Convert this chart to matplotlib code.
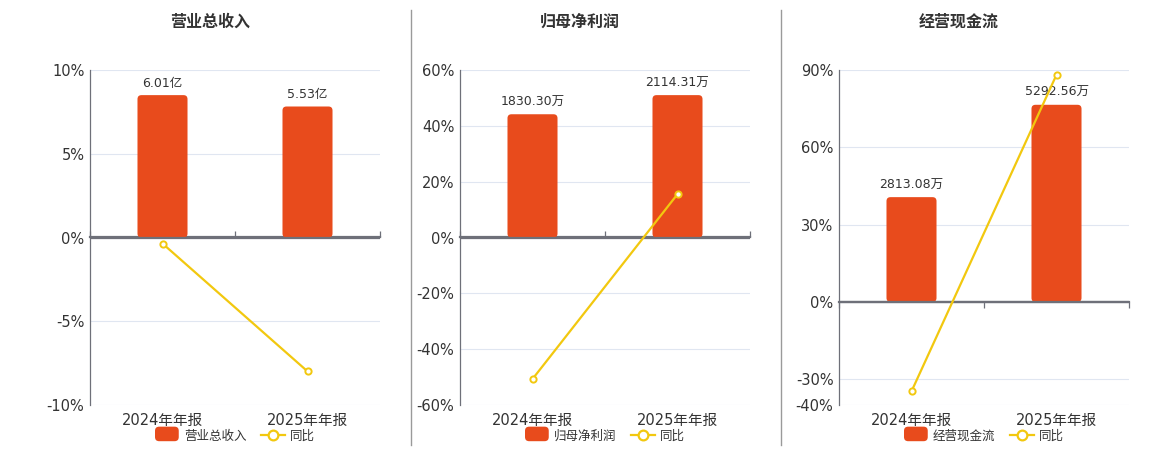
import numpy as np
import matplotlib.pyplot as plt
from matplotlib.patches import FancyBboxPatch, Patch
from matplotlib.lines import Line2D
from matplotlib.legend_handler import HandlerPatch

plt.rcParams['font.family'] = ['DejaVu Sans', 'Noto Sans CJK SC']

# data
categories = ['2024年年报', '2025年年报']
titles = ['营业总收入', '归母净利润', '经营现金流']
bar_values = [[6.01, 5.53], [1830.30, 2114.31], [2813.08, 5292.56]]
bar_labels = [['6.01亿', '5.53亿'], ['1830.30万', '2114.31万'], ['2813.08万', '5292.56万']]
yoy = [[-0.36, -7.99], [-50.7, 15.52], [-34.7, 88.14]]
pct_lims = [(-10, 10), (-60, 60), (-40, 90)]
pct_ticks = [[-10, -5, 0, 5, 10], [-60, -40, -20, 0, 20, 40, 60], [-40, -30, 0, 30, 60, 90]]

BAR = '#E84B1C'
LINE = '#F2C80F'
AXIS = '#6E7079'
GRID = '#E0E6F1'
TXT = '#333333'

W, H = 1160, 450
fig = plt.figure(figsize=(W / 100, H / 100), dpi=100)

lefts = [90, 460, 839]
pw = 290
top, bottom = 70, 405


class RoundHandler(HandlerPatch):
    def create_artists(self, legend, orig, xd, yd, width, height, fontsize, trans):
        p = FancyBboxPatch((xd, yd - 1.5), width, height + 3,
                           boxstyle='round,pad=0,rounding_size=3',
                           facecolor=BAR, edgecolor='none', transform=trans)
        return [p]


for i in range(3):
    ax = fig.add_axes([lefts[i] / W, 1 - bottom / H, pw / W, (bottom - top) / H])
    axb = ax.twinx()
    axb.patch.set_visible(False)

    lo, hi = pct_lims[i]
    ax.set_ylim(lo, hi)
    ax.set_xlim(-0.5, 1.5)
    zero_frac = -lo / (hi - lo)

    # bar axis shares the same zero
    btop = max(bar_values[i]) / 0.85
    bbot = -btop * (-lo) / hi
    axb.set_ylim(bbot, btop)
    axb.axis('off')

    x = np.arange(len(categories))
    bars = axb.bar(x, bar_values[i], width=0.345, color=BAR, zorder=2)
    # rounded tops
    px_x = 2 / pw
    px_y = (btop - bbot) / (bottom - top)
    for b in bars:
        b.set_visible(False)
        r = FancyBboxPatch((b.get_x(), b.get_y()), b.get_width(), b.get_height(),
                           boxstyle='round,pad=0,rounding_size=%f' % (4 * px_x),
                           mutation_aspect=px_y / px_x,
                           facecolor=BAR, edgecolor='none', zorder=2)
        axb.add_patch(r)
    for xi, v, lab in zip(x, bar_values[i], bar_labels[i]):
        axb.annotate(lab, (xi, v), xytext=(0, 4), textcoords='offset points',
                     ha='center', va='bottom', fontsize=9, color=TXT)

    # zero line above bars
    axb.axhline(0, color=AXIS, lw=1.6, zorder=3)

    # yoy line drawn in the percent axis coordinates, above the bars
    axb.plot(x, yoy[i], color=LINE, lw=1.6, marker='o', ms=4.5, transform=ax.transData,
             mfc='white', mec=LINE, mew=1.4, zorder=5, clip_on=False)

    ax.set_yticks(pct_ticks[i])
    ax.set_yticklabels(['%d%%' % t for t in pct_ticks[i]], fontsize=10.5, color=TXT)
    ax.set_xticks(x)
    ax.set_xticklabels(categories, fontsize=10.5, color=TXT)
    ax.tick_params(axis='x', length=0, pad=6)
    ax.tick_params(axis='y', length=0, pad=4)
    ax.grid(axis='y', color=GRID, lw=0.8)
    ax.set_axisbelow(True)
    for s in ['top', 'right', 'bottom']:
        ax.spines[s].set_visible(False)
    ax.spines['left'].set_color(AXIS)
    ax.spines['left'].set_linewidth(0.9)

    # category boundary ticks on the zero line
    sec = ax.secondary_xaxis(zero_frac)
    sec.set_xticks([-0.5, 0.5, 1.5])
    sec.set_xticklabels(['', '', ''])
    sec.tick_params(direction='out', length=4, color=AXIS, width=0.9)
    for s in sec.spines.values():
        s.set_color(AXIS)
        s.set_linewidth(1.6)

    fig.text((lefts[i] + pw / 2 - 25) / W, 1 - 22 / H, titles[i], ha='center', va='center',
             fontsize=11.5, fontweight='bold', color=TXT)

    handles = [Patch(facecolor=BAR, label=titles[i]),
               Line2D([], [], color=LINE, lw=1.6, marker='o', ms=7, mfc='white',
                      mec=LINE, mew=1.6, label='同比')]
    leg = ax.legend(handles=handles, loc='center', bbox_to_anchor=(0.5, -0.094),
                    ncol=2, frameon=False, fontsize=9, handlelength=1.9,
                    handleheight=0.9, columnspacing=1.2, handletextpad=0.4,
                    handler_map={Patch: RoundHandler()})
    for t in leg.get_texts():
        t.set_color(TXT)

for xs in [411, 781]:
    fig.add_artist(Line2D([xs / W, xs / W], [1 - 10 / H, 1 - 445 / H],
                          color='#9A9A9A', lw=1))

fig.savefig('out.png', dpi=100)
